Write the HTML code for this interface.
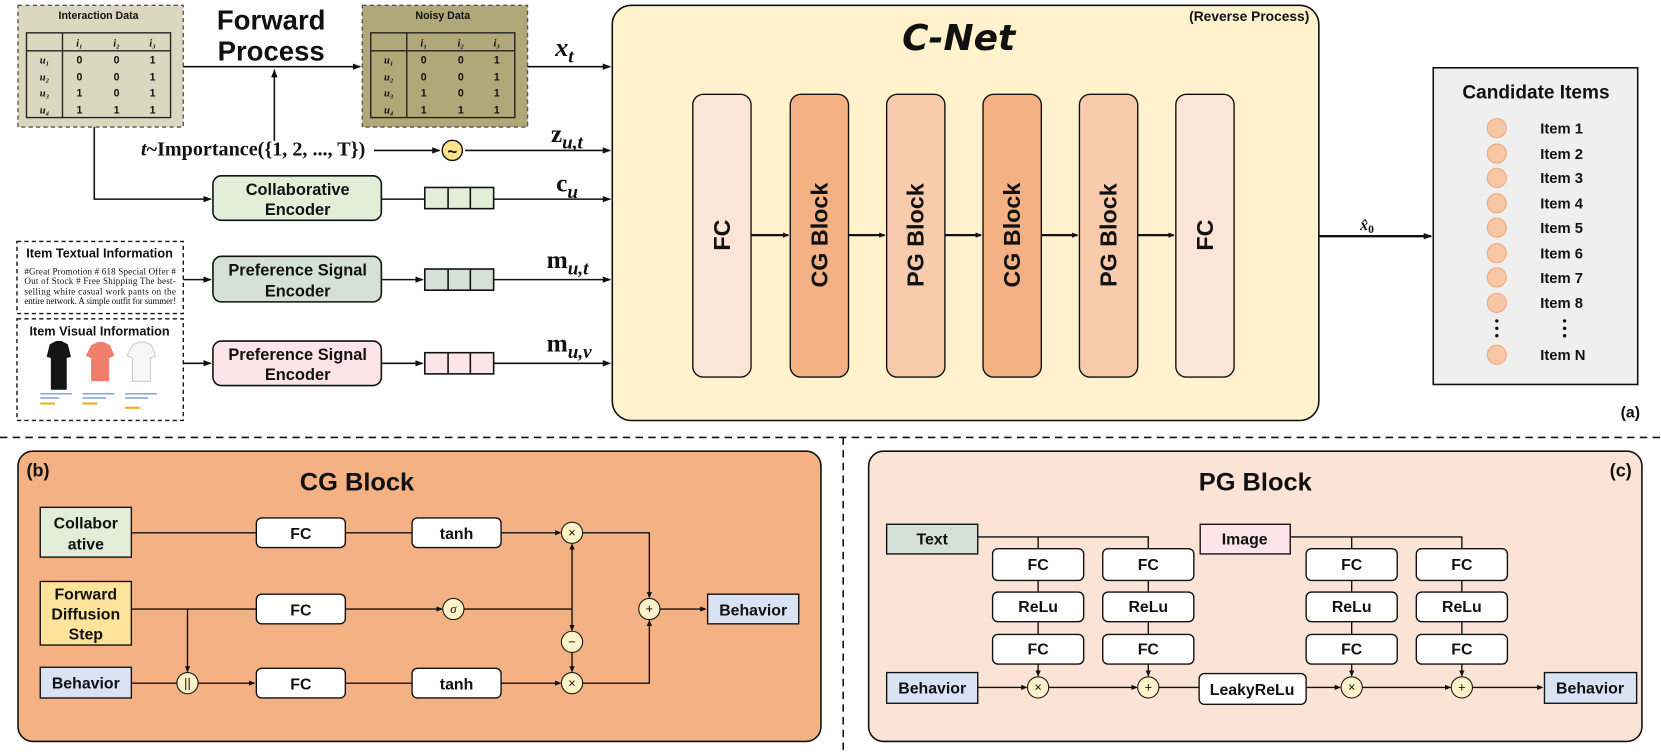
<!DOCTYPE html>
<html><head><meta charset="utf-8"><style>
html,body{margin:0;padding:0;background:#fff;width:1661px;height:752px;overflow:hidden}
svg{display:block}
text{font-family:"Liberation Sans",sans-serif;font-weight:bold;fill:#111}
.m{font-family:"Liberation Serif",serif;font-weight:bold}
.n{font-weight:normal}
</style></head><body>
<svg width="1661" height="752" viewBox="0 0 1568 710" preserveAspectRatio="none" xmlns="http://www.w3.org/2000/svg">
<defs>
<marker id="a" markerWidth="8" markerHeight="8" refX="7" refY="4" orient="auto" markerUnits="userSpaceOnUse"><path d="M0,1 L8,4 L0,7z" fill="#111"/></marker>
<marker id="s" markerWidth="6" markerHeight="6" refX="5" refY="3" orient="auto" markerUnits="userSpaceOnUse"><path d="M0,0.5 L6,3 L0,5.5z" fill="#111"/></marker>
</defs>
<!-- data boxes -->
<g stroke="#555" stroke-width="1.3">
<rect x="17" y="5" width="156" height="115" fill="#dcd8c0" stroke-dasharray="4,3"/>
<rect x="342" y="5" width="156" height="115" fill="#b0a878" stroke-dasharray="4,3"/>
</g>
<g stroke="#222" stroke-width="1.3" fill="none">
<rect x="25" y="31" width="136" height="80"/><line x1="25" y1="48" x2="161" y2="48"/><line x1="59" y1="31" x2="59" y2="111"/>
<rect x="350" y="31" width="136" height="80"/><line x1="350" y1="48" x2="486" y2="48"/><line x1="384" y1="31" x2="384" y2="111"/>
</g>
<text x="93" y="18" text-anchor="middle" font-size="10" fill="#333">Interaction Data</text>
<text x="418" y="18" text-anchor="middle" font-size="10" fill="#333">Noisy Data</text>
<g font-size="10" text-anchor="middle">
<g class="m" font-style="italic"><text class="m" x="75" y="44">i₁</text><text class="m" x="110" y="44">i₂</text><text class="m" x="144" y="44">i₃</text>
<text class="m" x="42" y="60">u₁</text><text class="m" x="42" y="76">u₂</text><text class="m" x="42" y="91">u₃</text><text class="m" x="42" y="107">u₄</text>
<text class="m" x="400" y="44">i₁</text><text class="m" x="435" y="44">i₂</text><text class="m" x="469" y="44">i₃</text>
<text class="m" x="367" y="60">u₁</text><text class="m" x="367" y="76">u₂</text><text class="m" x="367" y="91">u₃</text><text class="m" x="367" y="107">u₄</text></g>
<text x="75" y="60">0</text><text x="110" y="60">0</text><text x="144" y="60">1</text>
<text x="75" y="76">0</text><text x="110" y="76">0</text><text x="144" y="76">1</text>
<text x="75" y="91">1</text><text x="110" y="91">0</text><text x="144" y="91">1</text>
<text x="75" y="107">1</text><text x="110" y="107">1</text><text x="144" y="107">1</text>
<text x="400" y="60">0</text><text x="435" y="60">0</text><text x="469" y="60">1</text>
<text x="400" y="76">0</text><text x="435" y="76">0</text><text x="469" y="76">1</text>
<text x="400" y="91">1</text><text x="435" y="91">0</text><text x="469" y="91">1</text>
<text x="400" y="107">1</text><text x="435" y="107">1</text><text x="469" y="107">1</text>
</g>
<text x="256" y="28" font-size="26" text-anchor="middle">Forward</text>
<text x="256" y="57" font-size="26" text-anchor="middle">Process</text>
<g stroke="#111" stroke-width="1.5" fill="none">
<line x1="173" y1="63" x2="340" y2="63" marker-end="url(#a)"/>
<line x1="259" y1="133" x2="259" y2="66" marker-end="url(#a)"/>
<line x1="353" y1="142" x2="415" y2="142" marker-end="url(#a)"/>
<line x1="439" y1="142" x2="576" y2="142" marker-end="url(#a)"/>
<line x1="498" y1="63" x2="576" y2="63" marker-end="url(#a)"/>
<path d="M89,120 V188 H199" marker-end="url(#a)"/>
<line x1="360" y1="188" x2="401" y2="188"/>
<line x1="466" y1="188" x2="576" y2="188" marker-end="url(#a)"/>
<line x1="173" y1="264" x2="199" y2="264" marker-end="url(#a)"/>
<line x1="360" y1="264" x2="399" y2="264" marker-end="url(#a)"/>
<line x1="466" y1="264" x2="576" y2="264" marker-end="url(#a)"/>
<line x1="173" y1="343" x2="199" y2="343" marker-end="url(#a)"/>
<line x1="360" y1="343" x2="399" y2="343" marker-end="url(#a)"/>
<line x1="466" y1="343" x2="576" y2="343" marker-end="url(#a)"/>
</g>
<circle cx="427" cy="142" r="9.5" fill="#fde48a" stroke="#111" stroke-width="1.3"/>
<text x="427" y="148" font-size="16" text-anchor="middle">~</text>
<text class="m" x="239" y="147" font-size="19" text-anchor="middle"><tspan font-style="italic">t</tspan>~Importance({1, 2, ..., T})</text>
<text class="m" x="524" y="53" font-size="25" font-style="italic">x<tspan font-size="18" dy="6">t</tspan></text>
<text class="m" x="520" y="134" font-size="24">z<tspan font-size="18" dy="6" font-style="italic">u,t</tspan></text>
<text class="m" x="525" y="181" font-size="24">c<tspan font-size="18" dy="6" font-style="italic">u</tspan></text>
<text class="m" x="516" y="253" font-size="24">m<tspan font-size="18" dy="6" font-style="italic">u,t</tspan></text>
<text class="m" x="516" y="332" font-size="24">m<tspan font-size="18" dy="6" font-style="italic">u,v</tspan></text>
<!-- encoders -->
<g stroke="#111" stroke-width="1.5">
<rect x="201" y="166" width="159" height="42" rx="8" fill="#e2eed8"/>
<rect x="201" y="242" width="159" height="43" rx="8" fill="#d5e0d8"/>
<rect x="201" y="322" width="159" height="42" rx="8" fill="#fce4ea"/>
<rect x="401" y="177" width="65" height="20" fill="#e2eed8"/><line x1="423" y1="177" x2="423" y2="197"/><line x1="444" y1="177" x2="444" y2="197"/>
<rect x="401" y="254" width="65" height="20" fill="#d5e0d8"/><line x1="423" y1="254" x2="423" y2="274"/><line x1="444" y1="254" x2="444" y2="274"/>
<rect x="401" y="333" width="65" height="20" fill="#fce4ea"/><line x1="423" y1="333" x2="423" y2="353"/><line x1="444" y1="333" x2="444" y2="353"/>
</g>
<g font-size="15.5" text-anchor="middle">
<text x="281" y="184">Collaborative</text><text x="281" y="203">Encoder</text>
<text x="281" y="260">Preference Signal</text><text x="281" y="280">Encoder</text>
<text x="281" y="340">Preference Signal</text><text x="281" y="359">Encoder</text>
</g>
<rect x="16" y="228" width="157" height="68" fill="#fff" stroke="#111" stroke-width="1.3" stroke-dasharray="4,3"/>
<rect x="16" y="301" width="157" height="96" fill="#fff" stroke="#111" stroke-width="1.3" stroke-dasharray="4,3"/>
<text x="94" y="243" font-size="12" text-anchor="middle">Item Textual Information</text>
<g font-size="8.5">
<text class="m n" x="23" y="259" textLength="143">#Great Promotion # 618 Special Offer #</text>
<text class="m n" x="23" y="268" textLength="143">Out of Stock # Free Shipping The best-</text>
<text class="m n" x="23" y="278" textLength="143">selling white casual work pants on the</text>
<text class="m n" x="23" y="287" textLength="143">entire network. A simple outfit for summer!</text>
</g>
<text x="94" y="317" font-size="12" text-anchor="middle">Item Visual Information</text>
<path d="M47,325 l6,-3 h5 l6,3 l3,12 l-4,1 v30 h-15 v-30 l-4,-1z" fill="#141414"/>
<path d="M86,326 l6,-3 h6 l6,3 l4,10 l-5,2 v22 h-17 v-22 l-5,-2z" fill="#ef7f6c"/>
<path d="M125,326 l6,-3 h6 l6,3 l4,10 l-5,2 v22 h-17 v-22 l-5,-2z" fill="#f7f7f7" stroke="#ccc"/>
<g fill="#8aa6e0"><rect x="38" y="371" width="30" height="1.5"/><rect x="78" y="371" width="30" height="1.5"/><rect x="118" y="371" width="30" height="1.5"/><rect x="38" y="375" width="18" height="1.5"/><rect x="78" y="375" width="22" height="1.5"/><rect x="118" y="375" width="22" height="1.5"/></g>
<g fill="#e8b020"><rect x="38" y="380" width="14" height="2"/><rect x="78" y="380" width="14" height="2"/><rect x="118" y="384" width="14" height="2"/></g>
<!-- C-Net -->
<rect x="578" y="5" width="667" height="392" rx="18" fill="#fff2cc" stroke="#111" stroke-width="1.5"/>
<text x="905" y="47" font-size="34" text-anchor="middle" font-style="italic" style="font-family:'DejaVu Sans',sans-serif">C-Net</text>
<text x="1236" y="20" font-size="13" text-anchor="end">(Reverse Process)</text>
<g stroke="#111" stroke-width="1.3">
<rect x="654" y="89" width="55" height="267" rx="10" fill="#fbe5d6"/>
<rect x="746" y="89" width="55" height="267" rx="10" fill="#f4b183"/>
<rect x="837" y="89" width="55" height="267" rx="10" fill="#f8cbad"/>
<rect x="928" y="89" width="55" height="267" rx="10" fill="#f4b183"/>
<rect x="1019" y="89" width="55" height="267" rx="10" fill="#f8cbad"/>
<rect x="1110" y="89" width="55" height="267" rx="10" fill="#fbe5d6"/>
</g>
<g stroke="#111" stroke-width="2.2">
<line x1="709" y1="222" x2="744" y2="222" marker-end="url(#s)"/>
<line x1="801" y1="222" x2="835" y2="222" marker-end="url(#s)"/>
<line x1="892" y1="222" x2="926" y2="222" marker-end="url(#s)"/>
<line x1="983" y1="222" x2="1017" y2="222" marker-end="url(#s)"/>
<line x1="1074" y1="222" x2="1108" y2="222" marker-end="url(#s)"/>
<line x1="1245" y1="223" x2="1351" y2="223" marker-end="url(#a)"/>
</g>
<g font-size="22" text-anchor="middle">
<text transform="translate(681,222) rotate(-90)" y="8">FC</text>
<text transform="translate(773,222) rotate(-90)" y="8">CG Block</text>
<text transform="translate(864,222) rotate(-90)" y="8">PG Block</text>
<text transform="translate(955,222) rotate(-90)" y="8">CG Block</text>
<text transform="translate(1046,222) rotate(-90)" y="8">PG Block</text>
<text transform="translate(1137,222) rotate(-90)" y="8">FC</text>
</g>
<text class="m" x="1284" y="217" font-size="15" font-style="italic">x̂<tspan font-size="11" dy="3" style="font-style:normal">0</tspan></text>
<!-- Candidate -->
<rect x="1353" y="64" width="193" height="299" fill="#efefef" stroke="#111" stroke-width="1.5"/>
<text x="1450" y="93" font-size="18" text-anchor="middle">Candidate Items</text>
<g fill="#f8c8a6" stroke="#f0a878" stroke-width="1">
<circle cx="1413" cy="121" r="9"/><circle cx="1413" cy="145" r="9"/><circle cx="1413" cy="168" r="9"/><circle cx="1413" cy="192" r="9"/><circle cx="1413" cy="215" r="9"/><circle cx="1413" cy="239" r="9"/><circle cx="1413" cy="262" r="9"/><circle cx="1413" cy="286" r="9"/><circle cx="1413" cy="335" r="9"/>
</g>
<g font-size="14">
<text x="1454" y="126">Item 1</text><text x="1454" y="150">Item 2</text><text x="1454" y="173">Item 3</text><text x="1454" y="197">Item 4</text><text x="1454" y="220">Item 5</text><text x="1454" y="244">Item 6</text><text x="1454" y="267">Item 7</text><text x="1454" y="291">Item 8</text><text x="1454" y="340">Item N</text>
</g>
<g fill="#111"><circle cx="1413" cy="303" r="1.6"/><circle cx="1413" cy="310" r="1.6"/><circle cx="1413" cy="317" r="1.6"/><circle cx="1477" cy="303" r="1.6"/><circle cx="1477" cy="310" r="1.6"/><circle cx="1477" cy="317" r="1.6"/></g>
<text x="1539" y="394" font-size="15" text-anchor="middle">(a)</text>
<!-- separators -->
<line x1="0" y1="413" x2="1568" y2="413" stroke="#111" stroke-width="1.5" stroke-dasharray="7,5"/>
<line x1="796" y1="413" x2="796" y2="710" stroke="#111" stroke-width="1.5" stroke-dasharray="7,5"/>
<!-- CG block -->
<rect x="17" y="426" width="758" height="274" rx="14" fill="#f4b183" stroke="#111" stroke-width="1.5"/>
<text x="25" y="450" font-size="17">(b)</text>
<text x="337" y="463" font-size="24" text-anchor="middle">CG Block</text>
<g stroke="#111" stroke-width="1.3" fill="none">
<line x1="124" y1="503" x2="529" y2="503" marker-end="url(#s)"/>
<line x1="124" y1="575" x2="417" y2="575" marker-end="url(#s)"/>
<line x1="438" y1="575" x2="540" y2="575"/>
<line x1="124" y1="645" x2="167" y2="645"/>
<line x1="187" y1="645" x2="240" y2="645" marker-end="url(#s)"/>
<line x1="326" y1="645" x2="529" y2="645" marker-end="url(#s)"/>
<line x1="177" y1="575" x2="177" y2="634" marker-end="url(#s)"/>
<line x1="540" y1="575" x2="540" y2="514" marker-end="url(#s)"/>
<line x1="540" y1="575" x2="540" y2="595" marker-end="url(#s)"/>
<line x1="540" y1="616" x2="540" y2="634" marker-end="url(#s)"/>
<path d="M550,503 H613 V564" marker-end="url(#s)"/>
<path d="M550,645 H613 V586" marker-end="url(#s)"/>
<line x1="623" y1="575" x2="666" y2="575" marker-end="url(#s)"/>
</g>
<g stroke="#111" stroke-width="1.3">
<rect x="38" y="479" width="86" height="47" fill="#e2eed8"/>
<rect x="38" y="549" width="86" height="60" fill="#fde49a"/>
<rect x="38" y="630" width="86" height="29" fill="#dae3f3"/>
<rect x="668" y="561" width="86" height="28" fill="#dae3f3"/>
<rect x="242" y="489" width="84" height="28" rx="5" fill="#fff"/>
<rect x="389" y="489" width="84" height="28" rx="5" fill="#fff"/>
<rect x="242" y="561" width="84" height="28" rx="5" fill="#fff"/>
<rect x="242" y="631" width="84" height="28" rx="5" fill="#fff"/>
<rect x="389" y="631" width="84" height="28" rx="5" fill="#fff"/>
</g>
<g fill="#fdf2c8" stroke="#111" stroke-width="1">
<circle cx="540" cy="503" r="10"/><circle cx="428" cy="575" r="10"/><circle cx="540" cy="606" r="10"/><circle cx="540" cy="645" r="10"/><circle cx="613" cy="575" r="10"/><circle cx="177" cy="645" r="10"/>
</g>
<g font-size="12" text-anchor="middle">
<text class="n" x="540" y="507">×</text><text x="428" y="579" class="m n" font-style="italic">σ</text><text class="n" x="540" y="610">−</text><text class="n" x="540" y="649">×</text><text class="n" x="613" y="579">+</text><text class="n" x="177" y="649">||</text>
</g>
<g font-size="15" text-anchor="middle">
<text x="81" y="499">Collabor</text><text x="81" y="519">ative</text>
<text x="81" y="566">Forward</text><text x="81" y="585">Diffusion</text><text x="81" y="604">Step</text>
<text x="81" y="650">Behavior</text>
<text x="711" y="581">Behavior</text>
<text x="284" y="509">FC</text><text x="431" y="509">tanh</text>
<text x="284" y="581">FC</text>
<text x="284" y="651">FC</text><text x="431" y="651">tanh</text>
</g>
<!-- PG block -->
<rect x="820" y="426" width="730" height="274" rx="14" fill="#fbe3d6" stroke="#111" stroke-width="1.5"/>
<text x="1530" y="450" font-size="17" text-anchor="middle">(c)</text>
<text x="1185" y="463" font-size="24" text-anchor="middle">PG Block</text>
<g stroke="#111" stroke-width="1.3" fill="none">
<path d="M923,507 H1084 V518 M980,507 V518"/>
<path d="M1218,507 H1380 V518 M1276,507 V518"/>
<line x1="980" y1="548" x2="980" y2="559"/><line x1="1084" y1="548" x2="1084" y2="559"/>
<line x1="980" y1="587" x2="980" y2="599"/><line x1="1084" y1="587" x2="1084" y2="599"/>
<line x1="1276" y1="548" x2="1276" y2="559"/><line x1="1380" y1="548" x2="1380" y2="559"/>
<line x1="1276" y1="587" x2="1276" y2="599"/><line x1="1380" y1="587" x2="1380" y2="599"/>
<line x1="980" y1="627" x2="980" y2="638" marker-end="url(#s)"/>
<line x1="1084" y1="627" x2="1084" y2="638" marker-end="url(#s)"/>
<line x1="1276" y1="627" x2="1276" y2="638" marker-end="url(#s)"/>
<line x1="1380" y1="627" x2="1380" y2="638" marker-end="url(#s)"/>
<line x1="923" y1="649" x2="969" y2="649" marker-end="url(#s)"/>
<line x1="990" y1="649" x2="1073" y2="649" marker-end="url(#s)"/>
<line x1="1094" y1="649" x2="1132" y2="649"/>
<line x1="1233" y1="649" x2="1265" y2="649" marker-end="url(#s)"/>
<line x1="1286" y1="649" x2="1369" y2="649" marker-end="url(#s)"/>
<line x1="1390" y1="649" x2="1456" y2="649" marker-end="url(#s)"/>
</g>
<g stroke="#111" stroke-width="1.3">
<rect x="837" y="495" width="86" height="28" fill="#d5e0d8"/>
<rect x="1133" y="495" width="85" height="28" fill="#fce4ea"/>
<rect x="837" y="635" width="86" height="29" fill="#dae3f3"/>
<rect x="1458" y="635" width="87" height="29" fill="#dae3f3"/>
<rect x="1132" y="636" width="101" height="29" rx="5" fill="#fff"/>
<g fill="#fff">
<rect x="937" y="518" width="86" height="30" rx="5"/><rect x="937" y="559" width="86" height="28" rx="5"/><rect x="937" y="599" width="86" height="28" rx="5"/>
<rect x="1041" y="518" width="86" height="30" rx="5"/><rect x="1041" y="559" width="86" height="28" rx="5"/><rect x="1041" y="599" width="86" height="28" rx="5"/>
<rect x="1233" y="518" width="86" height="30" rx="5"/><rect x="1233" y="559" width="86" height="28" rx="5"/><rect x="1233" y="599" width="86" height="28" rx="5"/>
<rect x="1337" y="518" width="86" height="30" rx="5"/><rect x="1337" y="559" width="86" height="28" rx="5"/><rect x="1337" y="599" width="86" height="28" rx="5"/>
</g>
</g>
<g fill="#fdf2c8" stroke="#111" stroke-width="1">
<circle cx="980" cy="649" r="10"/><circle cx="1084" cy="649" r="10"/><circle cx="1276" cy="649" r="10"/><circle cx="1380" cy="649" r="10"/>
</g>
<g font-size="12" text-anchor="middle">
<text class="n" x="980" y="653">×</text><text class="n" x="1084" y="653">+</text><text class="n" x="1276" y="653">×</text><text class="n" x="1380" y="653">+</text>
</g>
<g font-size="15" text-anchor="middle">
<text x="880" y="514">Text</text><text x="1175" y="514">Image</text>
<text x="880" y="655">Behavior</text><text x="1501" y="655">Behavior</text>
<text x="1182" y="656">LeakyReLu</text>
<text x="980" y="538">FC</text><text x="980" y="578">ReLu</text><text x="980" y="618">FC</text>
<text x="1084" y="538">FC</text><text x="1084" y="578">ReLu</text><text x="1084" y="618">FC</text>
<text x="1276" y="538">FC</text><text x="1276" y="578">ReLu</text><text x="1276" y="618">FC</text>
<text x="1380" y="538">FC</text><text x="1380" y="578">ReLu</text><text x="1380" y="618">FC</text>
</g>
</svg>
</body></html>
